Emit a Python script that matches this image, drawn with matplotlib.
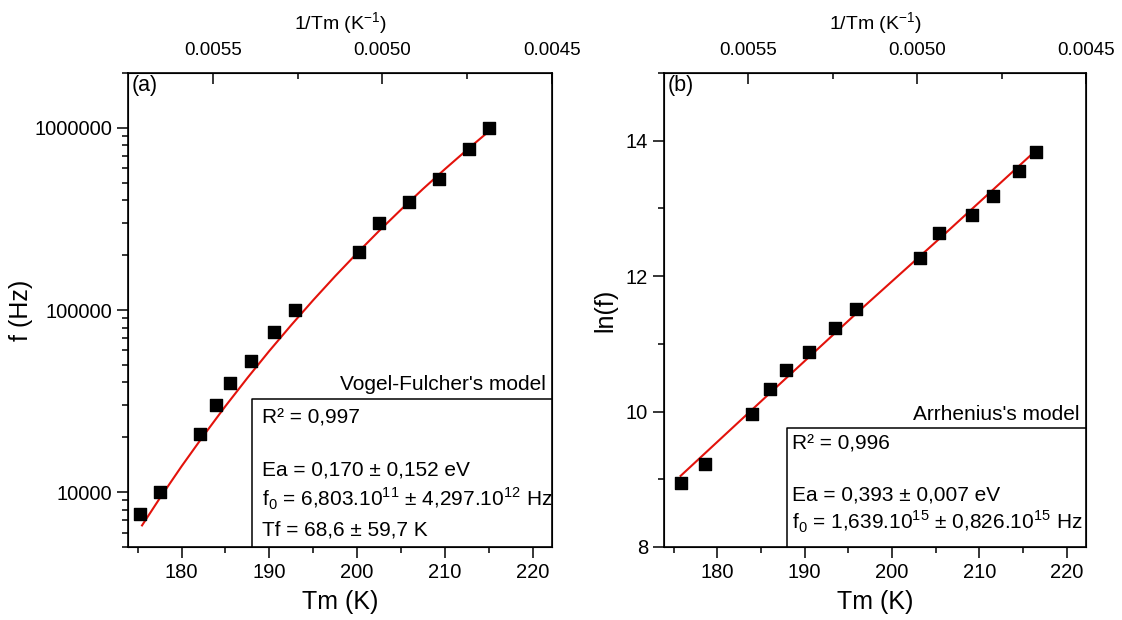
import numpy as np
import matplotlib
matplotlib.use('Agg')
import matplotlib.pyplot as plt
from matplotlib.ticker import FixedLocator, NullFormatter, FuncFormatter, LogLocator, MultipleLocator

plt.rcParams['font.family'] = ['Liberation Sans', 'DejaVu Sans']
plt.rcParams['mathtext.fontset'] = 'custom'
plt.rcParams['mathtext.rm'] = 'Liberation Sans'

#data -------------------------------------------------------------------------
# panel (a): Vogel-Fulcher
tm_a = [175.3, 177.6, 182.1, 183.9, 185.5, 187.9, 190.5, 192.9,
        200.2, 202.5, 205.9, 209.3, 212.7, 215.0]
f_a = [7570, 10000, 20800, 30100, 39700, 52500, 76000, 100000,
       208000, 300000, 394000, 526000, 764000, 1000000]
fit_tm_a = [175.5, 177.5, 180, 182.5, 185, 187.5, 190, 192.5, 195,
            197.5, 200, 202.5, 205, 207.5, 210, 212.5, 215]
fit_f_a = [6570, 9230, 13860, 20430, 29670, 42350, 59630, 82690, 113300,
           153400, 205200, 271800, 355700, 461800, 593500, 756000, 956300]

# panel (b): Arrhenius
tm_b = [175.8, 178.6, 184.0, 186.0, 187.9, 190.5, 193.5, 195.9,
        203.2, 205.4, 209.1, 211.5, 214.5, 216.5]
lnf_b = [8.94, 9.23, 9.96, 10.33, 10.61, 10.88, 11.24, 11.52,
         12.27, 12.64, 12.91, 13.19, 13.56, 13.84]
fit_tm_b = [175.8, 186.0, 196.0, 206.0, 216.5]
fit_lnf_b = [9.05, 10.27, 11.46, 12.62, 13.86]

txt_a = ["R\u00b2 = 0,997",
         "Ea = 0,170 \u00b1 0,152 eV",
         "f$_\\mathregular{0}$ = 6,803.10$^\\mathregular{11}$ \u00b1 4,297.10$^\\mathregular{12}$ Hz",
         "Tf = 68,6 \u00b1 59,7 K"]
txt_b = ["R\u00b2 = 0,996",
         "Ea = 0,393 \u00b1 0,007 eV",
         "f$_\\mathregular{0}$ = 1,639.10$^\\mathregular{15}$ \u00b1 0,826.10$^\\mathregular{15}$ Hz"]

xlim = (173.9, 222.2)
top_lim = (0.00575, 0.0045)

W, H = 1122, 620
fig = plt.figure(figsize=(11.22, 6.2), dpi=100)
AX_TOP, AX_BOT = 73, 547
ax_a = fig.add_axes([128/W, (H-AX_BOT)/H, 424/W, (AX_BOT-AX_TOP)/H])
ax_b = fig.add_axes([664/W, (H-AX_BOT)/H, 422/W, (AX_BOT-AX_TOP)/H])


def style_axes(ax):
    for s in ax.spines.values():
        s.set_linewidth(1.2)
    ax.set_xlim(*xlim)
    ax.xaxis.set_major_locator(MultipleLocator(10))
    ax.xaxis.set_minor_locator(MultipleLocator(5))
    ax.tick_params(which='major', length=8, width=1.1, labelsize=14.5, direction='out')
    ax.tick_params(which='minor', length=4, width=1.1, direction='out')
    ax.tick_params(axis='y', right=False, which='both')
    ax.set_xlabel('Tm (K)', fontsize=18, labelpad=6)
    # top axis in 1/T, linear
    top = ax.twiny()
    top.set_xlim(*top_lim)
    top.xaxis.set_major_locator(FixedLocator([0.0055, 0.0050, 0.0045]))
    top.xaxis.set_minor_locator(FixedLocator([0.00525, 0.00475]))
    top.xaxis.set_major_formatter(FuncFormatter(lambda v, p: f'{v:.4f}'))
    top.tick_params(which='major', length=8, width=1.1, direction='in', labelsize=13.5, pad=10)
    top.tick_params(which='minor', length=4, width=1.1, direction='in')
    top.set_xlabel('1/Tm (K$^\\mathregular{-1}$)', fontsize=14, labelpad=9)
    return top


#panel a ----------------------------------------------------------------------
ax_a.set_yscale('log')
ax_a.set_ylim(5000, 2.0e6)
ax_a.plot(fit_tm_a, fit_f_a, color='#e3120b', lw=1.5, zorder=2)
ax_a.scatter(tm_a, f_a, marker='s', s=70, color='black', zorder=3)
ax_a.yaxis.set_major_locator(FixedLocator([1e4, 1e5, 1e6]))
ax_a.yaxis.set_major_formatter(FuncFormatter(lambda v, p: f'{int(round(v))}'))
ax_a.yaxis.set_minor_locator(LogLocator(base=10, subs=np.arange(2, 10)))
ax_a.yaxis.set_minor_formatter(NullFormatter())
ax_a.set_ylabel('f (Hz)', fontsize=18)
ax_a.yaxis.set_label_coords((33 - 128) / 424, 0.5)
style_axes(ax_a)
ax_a.text(0.008, 0.995, '(a)', transform=ax_a.transAxes, fontsize=15.5, va='top', ha='left')

#panel b ----------------------------------------------------------------------
ax_b.set_ylim(8, 15)
ax_b.plot(fit_tm_b, fit_lnf_b, color='#e3120b', lw=1.5, zorder=2)
ax_b.scatter(tm_b, lnf_b, marker='s', s=70, color='black', zorder=3)
ax_b.yaxis.set_major_locator(MultipleLocator(2))
ax_b.yaxis.set_minor_locator(MultipleLocator(1))
ax_b.set_ylabel('ln(f)', fontsize=18, labelpad=6)
style_axes(ax_b)
ax_b.text(0.008, 0.995, '(b)', transform=ax_b.transAxes, fontsize=15.5, va='top', ha='left')


#text boxes -------------------------------------------------------------------
def yfrac(py):
    return (AX_BOT - py) / (AX_BOT - AX_TOP)


def fit_box(ax, x0, px_top, px_title, px_lines, title, lines, px_text_x, px_ax_left, ax_w):
    y0 = yfrac(px_top)
    ax.plot([x0, x0, 1], [0, y0, y0], transform=ax.transAxes, color='black',
            lw=1.1, clip_on=False, zorder=4)
    ax.text(0.985, yfrac(px_title), title, transform=ax.transAxes, ha='right',
            va='center', fontsize=15)
    tx = (px_text_x - px_ax_left) / ax_w
    for py, s in zip(px_lines, lines):
        ax.text(tx, yfrac(py), s, transform=ax.transAxes, ha='left',
                va='center', fontsize=15)


fit_box(ax_a, (252-128)/424, 399, 385, [418, 470, 499, 530], "Vogel-Fulcher's model",
        txt_a, 262, 128, 424)
fit_box(ax_b, (787-664)/422, 428, 414, [444, 495, 522], "Arrhenius's model",
        txt_b, 792, 664, 422)

fig.savefig('out.png', dpi=100)
